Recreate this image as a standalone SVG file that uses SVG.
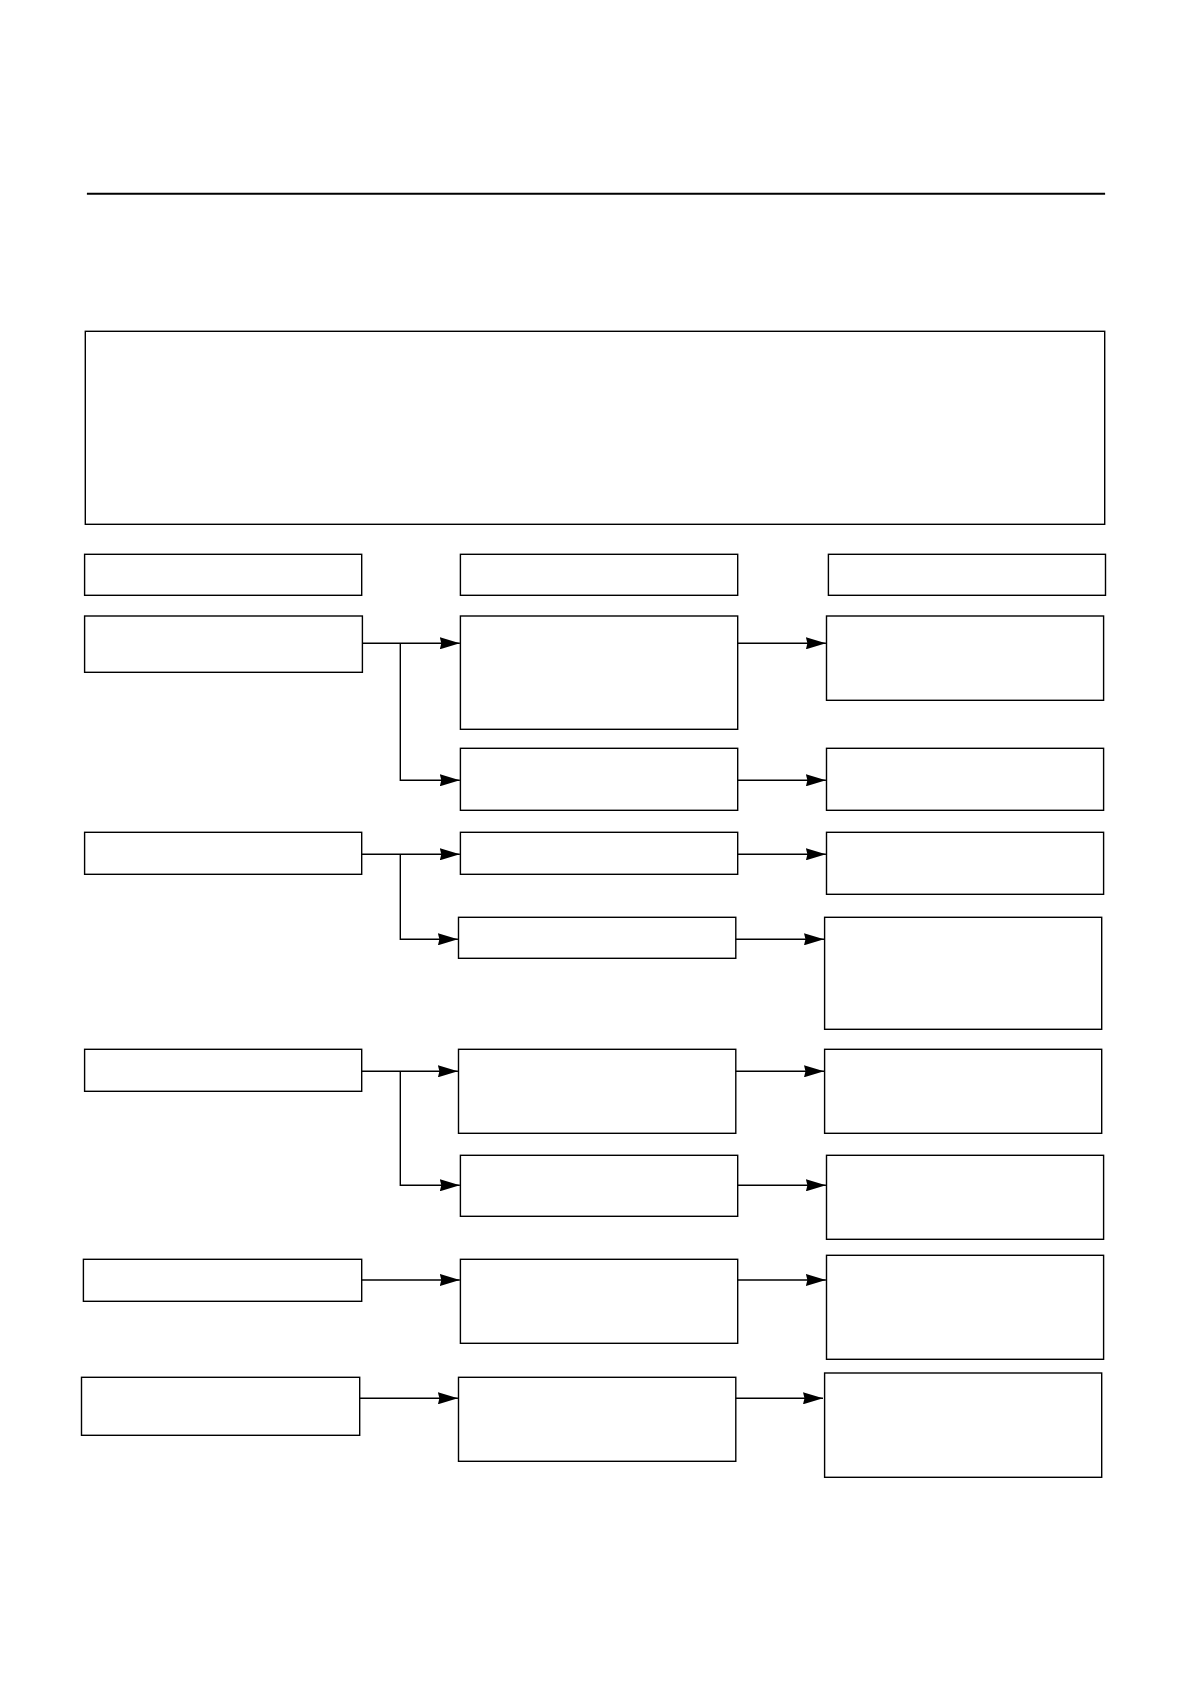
<svg xmlns="http://www.w3.org/2000/svg" width="1190" height="1682" viewBox="0 0 1190 1682">
<style>
.box{fill:#ffffff;stroke:#000000;stroke-width:1.4}
.con{fill:none;stroke:#000000;stroke-width:1.4;marker-end:url(#arr)}
</style>
<defs>
<marker id="arr" markerUnits="userSpaceOnUse" markerWidth="20" markerHeight="12" refX="20" refY="6" orient="auto">
<path d="M0,0 L20,6 L0,12 L1.5,6 z" fill="#000000"/>
</marker>
</defs>
<rect width="1190" height="1682" fill="#ffffff"/>
<line id="rule" x1="86.9" y1="193.7" x2="1105.1" y2="193.7" stroke="#000000" stroke-width="2"/>
<g id="intro"><rect class="box" x="85.3" y="331.3" width="1019.4" height="193"/></g>
<g id="head1"><rect class="box" x="84.6" y="554.3" width="277.1" height="41"/></g>
<g id="head2"><rect class="box" x="460.4" y="554.3" width="277.3" height="41"/></g>
<g id="head3"><rect class="box" x="828.4" y="554.3" width="277.1" height="41"/></g>
<g id="L1"><rect class="box" x="84.6" y="616" width="277.8" height="56.3"/></g>
<g id="M1a"><rect class="box" x="460.4" y="616" width="277.3" height="113.3"/></g>
<g id="M1b"><rect class="box" x="460.4" y="748.3" width="277.3" height="62"/></g>
<g id="R1a"><rect class="box" x="826.5" y="616" width="277.1" height="84.3"/></g>
<g id="R1b"><rect class="box" x="826.5" y="748.3" width="277.1" height="62"/></g>
<g id="L2"><rect class="box" x="84.6" y="832.3" width="277.1" height="42"/></g>
<g id="M2a"><rect class="box" x="460.4" y="832.3" width="277.3" height="42"/></g>
<g id="M2b"><rect class="box" x="458.5" y="917.3" width="277.3" height="41"/></g>
<g id="R2a"><rect class="box" x="826.5" y="832.3" width="277.1" height="62"/></g>
<g id="R2b"><rect class="box" x="824.6" y="917.3" width="277.1" height="112"/></g>
<g id="L3"><rect class="box" x="84.6" y="1049.3" width="277.1" height="42"/></g>
<g id="M3a"><rect class="box" x="458.5" y="1049.3" width="277.3" height="84"/></g>
<g id="M3b"><rect class="box" x="460.4" y="1155.3" width="277.3" height="61"/></g>
<g id="R3a"><rect class="box" x="824.6" y="1049.3" width="277.1" height="84"/></g>
<g id="R3b"><rect class="box" x="826.5" y="1155.3" width="277.1" height="84"/></g>
<g id="L4"><rect class="box" x="83.4" y="1259.3" width="278.3" height="42"/></g>
<g id="M4"><rect class="box" x="460.4" y="1259.3" width="277.3" height="84"/></g>
<g id="R4"><rect class="box" x="826.5" y="1255.3" width="277.1" height="104"/></g>
<g id="L5"><rect class="box" x="81.5" y="1377.3" width="278.2" height="58"/></g>
<g id="M5"><rect class="box" x="458.5" y="1377.3" width="277.3" height="84"/></g>
<g id="R5"><rect class="box" x="824.6" y="1373" width="277.1" height="104.3"/></g>
<g id="connectors">
<path class="con" d="M362.4,643.3 H459.8"/>
<path class="con" d="M400.3,643.3 V780.3 H459.8"/>
<path class="con" d="M737.7,643.3 H825.9"/>
<path class="con" d="M737.7,780.3 H825.9"/>
<path class="con" d="M361.7,854.3 H459.8"/>
<path class="con" d="M400.3,854.3 V939.3 H457.9"/>
<path class="con" d="M737.7,854.3 H825.9"/>
<path class="con" d="M735.8,939.3 H824"/>
<path class="con" d="M361.7,1071.3 H457.9"/>
<path class="con" d="M400.3,1071.3 V1185.3 H459.8"/>
<path class="con" d="M735.8,1071.3 H824"/>
<path class="con" d="M737.7,1185.3 H825.9"/>
<path class="con" d="M361.7,1280 H459.8"/>
<path class="con" d="M737.7,1280 H825.9"/>
<path class="con" d="M359.7,1398.3 H457.9"/>
<path class="con" d="M735.8,1398.3 H823"/>
</g>
</svg>
